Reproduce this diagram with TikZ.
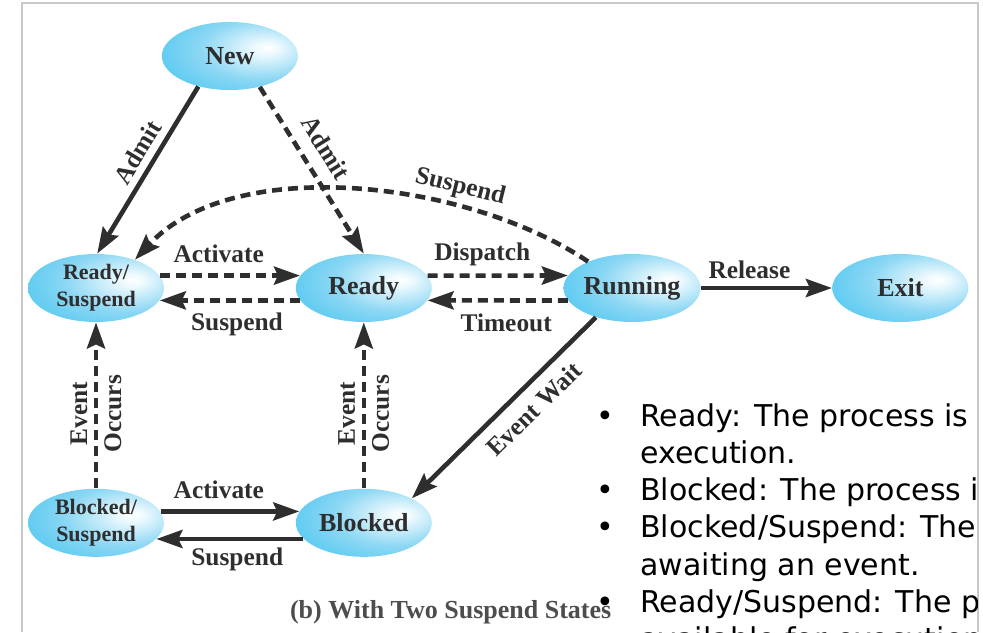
\documentclass[tikz,border=0pt]{standalone}
\usepackage{fontspec}
\setmainfont{Liberation Serif}
\newfontfamily\bulletfont{DejaVu Sans}
\usetikzlibrary{positioning,arrows.meta,shapes.geometric,calc}
\definecolor{ballblue}{HTML}{3AC2EF}
\definecolor{balllight}{HTML}{8CD7F4}
\definecolor{ink}{HTML}{2E2E2E}
\definecolor{framegray}{HTML}{C8C8C8}
\pgfdeclareradialshading{stateball}{\pgfpoint{14bp}{6bp}}{%
  color(0bp)=(white); color(4bp)=(white!92!ballblue); color(22bp)=(balllight);
  color(46bp)=(ballblue); color(100bp)=(ballblue)}

\begin{document}
\begin{tikzpicture}[
  node distance=83pt and 65.5pt,
  state/.style={ellipse,shading=stateball,minimum width=68pt,minimum height=34pt,
                inner sep=0pt,align=center,text=ink,
                font=\fontsize{13}{15}\selectfont\bfseries},
  twoline/.style={font=\fontsize{11}{13.5}\selectfont\bfseries},
  lbl/.style={text=ink,font=\fontsize{12.7}{17}\selectfont\bfseries},
  solidarrow/.style={-{Stealth[length=13pt,width=9pt,inset=2pt]},line width=2.3pt,draw=ink},
  dasharrow/.style={solidarrow,dash pattern=on 5pt off 3pt}
]
  \useasboundingbox (0,0) rectangle (491.5pt,-316pt);
  \draw[framegray,line width=.6pt] (11pt,-316pt) -- (11pt,-1.5pt) -- (489pt,-1.5pt) -- (489pt,-316pt);

  \node[state,twoline] (rsusp) at (48pt,-144pt) {Ready/\\Suspend};
  \node[state,right=of rsusp] (ready) {Ready};
  \node[state,right=of ready] (running) {Running};
  \node[state,right=of running] (exit) {Exit};
  \node[state,twoline,below=of rsusp] (bsusp) {Blocked/\\Suspend};
  \node[state,right=of bsusp] (blocked) {Blocked};
  \node[state] (new) at ($(rsusp)!.5!(ready)+(0,116pt)$) {New};

  \draw[solidarrow] (new.224) -- node[lbl,sloped,above,pos=.45]{Admit} (rsusp.88);
  \draw[dasharrow] (new.314) -- node[lbl,sloped,above=3pt,pos=.44]{Admit} (ready.north);
  \draw[dasharrow] (running.149) to[out=146,in=47,looseness=.82]
        node[lbl,sloped,above=-1pt,pos=.3]{Suspend} (rsusp.36);
  \draw[dasharrow] (rsusp.11) -- node[lbl,above=2pt,pos=.42]{Activate} (ready.169);
  \draw[dasharrow] (ready.191) -- node[lbl,below=2pt,pos=.45]{Suspend} (rsusp.349);
  \draw[dasharrow] (ready.11) -- node[lbl,above=.5pt,pos=.39]{Dispatch} (running.169);
  \draw[dasharrow] (running.191) -- node[lbl,below=2pt,pos=.44]{Timeout} (ready.349);
  \draw[solidarrow] (running) -- node[lbl,above,pos=.37]{Release} (exit);
  \draw[solidarrow] (running.219) -- node[lbl,sloped,below=2pt,pos=.42]{Event Wait} (blocked.27);
  \draw[dasharrow] (bsusp) -- node[lbl,sloped,align=center,pos=.45]{Event\\Occurs} (rsusp);
  \draw[dasharrow] (blocked) -- node[lbl,sloped,align=center,pos=.45]{Event\\Occurs} (ready);
  \draw[solidarrow] (bsusp.10) -- node[lbl,above=2pt,pos=.42]{Activate} (blocked.170);
  \draw[solidarrow] (blocked.195) -- node[lbl,below,pos=.45]{Suspend} (bsusp.345);

  \node[text=ink!85,font=\fontsize{13}{15}\selectfont\bfseries,anchor=base west]
        (caption) at (141.5pt,-309pt) {(b) With Two Suspend States};

  \begin{scope}
    \clip (0,0) rectangle (488.7pt,-316pt);
    \node[anchor=base west,inner sep=0pt,font=\bulletfont\fontsize{15}{18.65}\selectfont]
          (bullets) at (298pt,-213pt)
          {\begin{tabular}[t]{@{}p{22pt}@{}l@{}}
             • & Ready: The process is\\
               & execution.\\
             • & Blocked: The process i\\
             • & Blocked/Suspend: The\\
               & awaiting an event.\\
             • & Ready/Suspend: The p\\
               & available for execution
           \end{tabular}};
  \end{scope}
\end{tikzpicture}
\end{document}
